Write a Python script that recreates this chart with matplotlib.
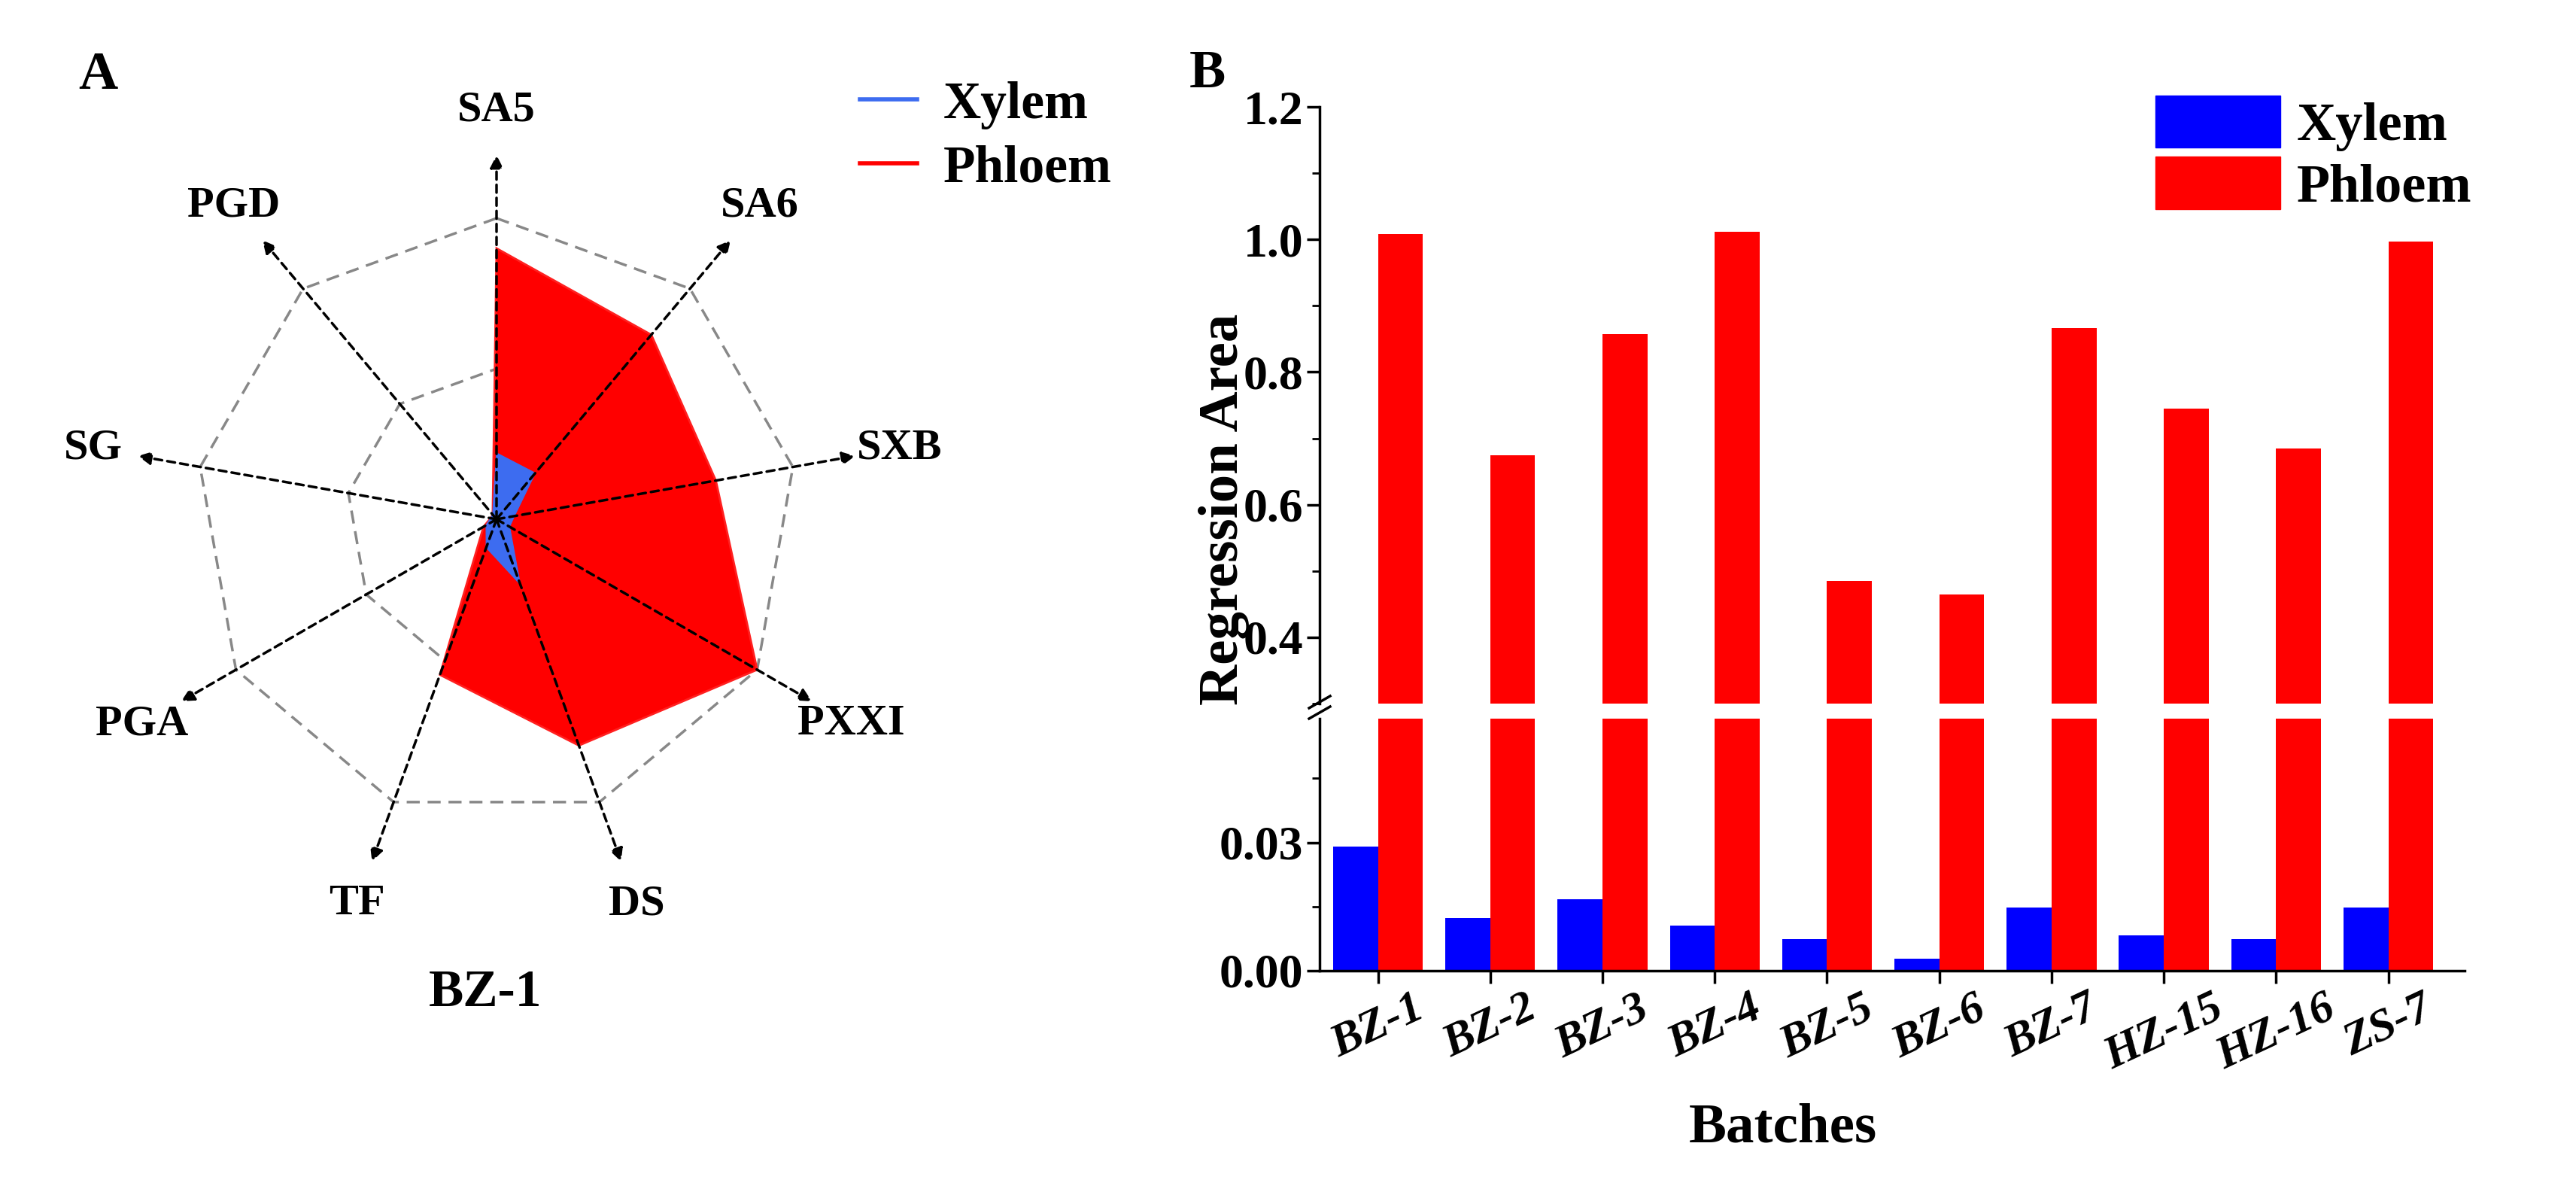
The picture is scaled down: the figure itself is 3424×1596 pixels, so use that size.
import numpy as np
import matplotlib
matplotlib.use("Agg")
import matplotlib.pyplot as plt
from matplotlib.lines import Line2D
from matplotlib.patches import Patch

# ---- data ----
radar_labels = ["SA5", "SA6", "SXB", "PXXI", "DS", "TF", "PGA", "SG", "PGD"]
radar_xylem = [0.22, 0.20, 0.06, 0.05, 0.23, 0.10, 0.04, 0.02, 0.02]
radar_phloem = [0.90, 0.80, 0.74, 1.00, 0.80, 0.55, 0.05, 0.02, 0.02]
grid_levels = [0.5, 1.0]

batches = ["BZ-1", "BZ-2", "BZ-3", "BZ-4", "BZ-5", "BZ-6", "BZ-7", "HZ-15", "HZ-16", "ZS-7"]
xylem = [0.029, 0.0123, 0.0168, 0.0105, 0.0074, 0.0029, 0.0148, 0.0083, 0.0074, 0.0148]
phloem = [1.008, 0.675, 0.857, 1.012, 0.485, 0.465, 0.866, 0.745, 0.685, 0.997]

plt.rcParams['font.family'] = ['Liberation Serif', 'DejaVu Serif']
plt.rcParams['font.weight'] = 'bold'

W, H = 3424, 1596
fig = plt.figure(figsize=(W / 100, H / 100), dpi=100)

# ---- radar ----
cx, cy, R = 660, 690, 520
ax = fig.add_axes([(cx - R) / W, (H - cy - R) / H, 2 * R / W, 2 * R / H], projection='polar')
ax.set_theta_offset(np.pi / 2)
ax.set_theta_direction(-1)
ax.set_ylim(0, 1.3)
ax.axis('off')
n = len(radar_labels)
th = np.arange(n) * 2 * np.pi / n
thc = np.append(th, th[0])
for lv in grid_levels:
    ax.plot(thc, [lv] * (n + 1), color='#888888', ls=(0, (5, 3)), lw=2.5, zorder=1)
ph = np.append(radar_phloem, radar_phloem[0])
xy = np.append(radar_xylem, radar_xylem[0])
ax.fill(thc, ph, color='#ff0000', zorder=2, lw=2, edgecolor='#ff2020')
ax.fill(thc, xy, color='#3d6cf0', zorder=3)
for t, lab in zip(th, radar_labels):
    ax.annotate('', xy=(t, 1.21), xytext=(0, 0),
                arrowprops=dict(arrowstyle='-|>', ls=(0, (3, 2)), lw=2.5, color='black',
                                mutation_scale=25, shrinkA=0, shrinkB=0), zorder=4)
    ax.text(t, 1.36, lab, ha='center', va='center', fontsize=42, fontweight='bold',
            clip_on=False)

fig.text(645 / W, 1 - 1320 / H, "BZ-1", ha='center', va='center', fontsize=50, fontweight='bold')
fig.text(130 / W, 1 - 100 / H, "A", ha='center', va='center', fontsize=52, fontweight='bold')
fig.legend(handles=[Line2D([], [], color='#3d6cf0', lw=4), Line2D([], [], color='#ff0000', lw=4)],
           labels=["Xylem", "Phloem"], loc='upper left', bbox_to_anchor=(1080 / W, 1 - 45 / H),
           frameon=False, prop=dict(size=50, weight='bold'), handlelength=1.1,
           handletextpad=0.5, labelspacing=0.3)

# ---- broken bar chart ----
L, Rr = 1754, 3276
up_top, up_bot = 142, 935
lo_top, lo_bot = 955, 1290
axu = fig.add_axes([L / W, 1 - up_bot / H, (Rr - L) / W, (up_bot - up_top) / H])
axl = fig.add_axes([L / W, 1 - lo_bot / H, (Rr - L) / W, (lo_bot - lo_top) / H], sharex=axu)
x = np.arange(len(batches))
bw = 0.4
for a in (axu, axl):
    a.bar(x - bw / 2, xylem, bw, color='#0000ff')
    a.bar(x + bw / 2, phloem, bw, color='#ff0000')
    a.spines['top'].set_visible(False)
    a.spines['right'].set_visible(False)
    for s in a.spines.values():
        s.set_linewidth(2.5)
    a.tick_params(which='major', direction='out', length=12, width=2.5, labelsize=46)
    a.tick_params(which='minor', direction='out', length=7, width=2)
axu.set_xlim(-0.52, 9.68)
axu.set_ylim(0.3, 1.2)
axu.set_yticks([0.4, 0.6, 0.8, 1.0, 1.2])
axu.set_yticks(np.arange(0.3, 1.21, 0.1), minor=True)
axu.spines['bottom'].set_visible(False)
axu.tick_params(axis='x', which='both', bottom=False, labelbottom=False)
axl.set_ylim(0, 0.059)
axl.set_yticks([0.0, 0.03])
axl.set_yticklabels(["0.00", "0.03"])
axl.set_yticks([0.015, 0.045], minor=True)
axl.set_xticks(x)
axl.set_xticklabels(batches, rotation=25, fontsize=44, fontstyle='italic', fontweight='bold')
for lab in axl.get_xticklabels():
    lab.set_ha('center')
for lab in axu.get_yticklabels() + axl.get_yticklabels():
    lab.set_fontweight('bold')
# break marks
for yy in (945 - 12, 945 + 2):
    fig.add_artist(Line2D([(L - 14) / W, (L + 14) / W], [1 - (yy + 8) / H, 1 - (yy - 8) / H],
                          color='black', lw=2.5))

fig.text(1627 / W, 1 - 677 / H, "Regression Area", rotation=90, ha='center', va='center',
         fontsize=54, fontweight='bold')
fig.text(2370 / W, 1 - 1500 / H, "Batches", ha='center', va='center', fontsize=54, fontweight='bold')
fig.text(1605 / W, 1 - 98 / H, "B", ha='center', va='center', fontsize=52, fontweight='bold')
fig.legend(handles=[Patch(color='#0000ff'), Patch(color='#ff0000')], labels=["Xylem", "Phloem"],
           loc='upper left', bbox_to_anchor=(2800 / W, 1 - 62 / H), frameon=False,
           prop=dict(size=52, weight='bold'), handlelength=2.3, handleheight=1.1,
           handletextpad=0.3, labelspacing=0.1)

fig.savefig("out.png", dpi=100)
